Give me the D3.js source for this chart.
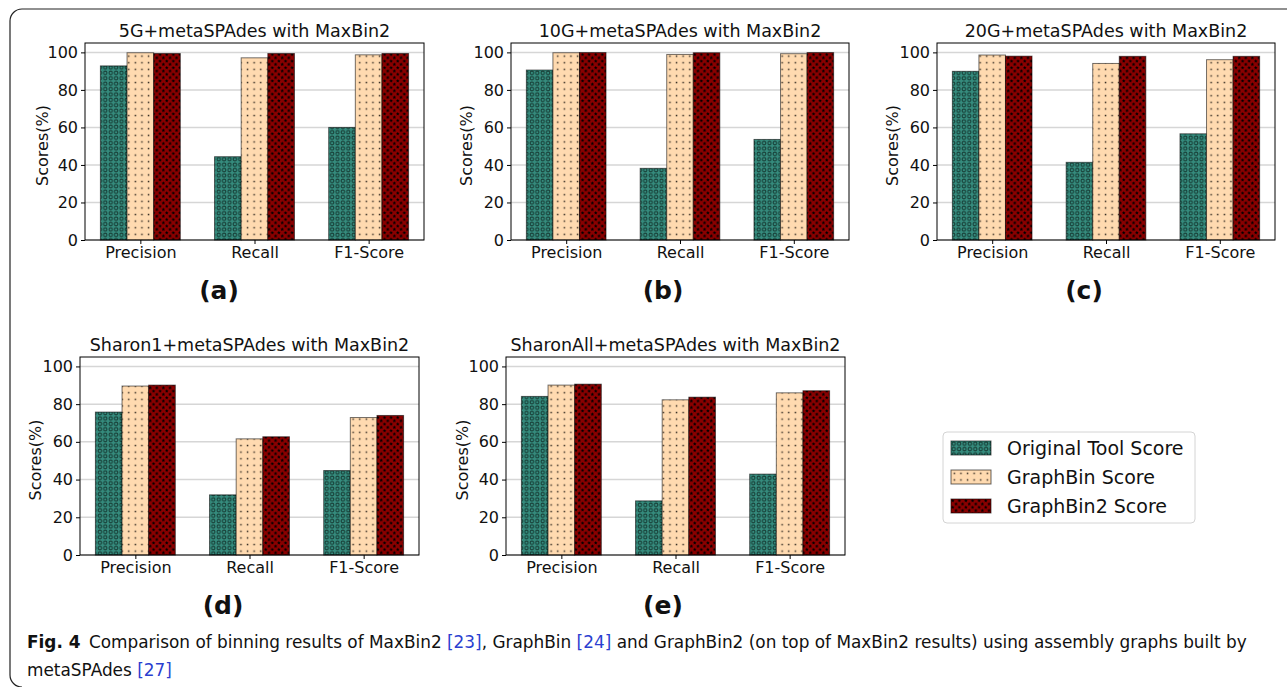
<!DOCTYPE html>
<html>
<head>
<meta charset="utf-8">
<script src="https://cdn.jsdelivr.net/npm/d3@7"></script>
<style>
	body { margin: 0; background: #fff; }
	svg { display: block; }
	text { font-family: "DejaVu Sans", sans-serif; fill: #111; }
</style>
</head>
<body>
<svg id="fig" width="1287" height="687"></svg>
<script>
var categories = ["Precision", "Recall", "F1-Score"];
var seriesNames = ["Original Tool Score", "GraphBin Score", "GraphBin2 Score"];
var panelTitles = [
	"5G+metaSPAdes with MaxBin2",
	"10G+metaSPAdes with MaxBin2",
	"20G+metaSPAdes with MaxBin2",
	"Sharon1+metaSPAdes with MaxBin2",
	"SharonAll+metaSPAdes with MaxBin2"
];
var panelLetters = ["(a)", "(b)", "(c)", "(d)", "(e)"];
// one row per panel, one value per category
var originalScores = [
	[92.8, 44.4, 60.0],
	[90.6, 38.2, 53.6],
	[89.9, 41.4, 56.6],
	[75.8, 31.9, 44.8],
	[84.1, 28.7, 42.9]
];
var graphbinScores = [
	[99.8, 97.1, 98.7],
	[99.8, 98.9, 99.3],
	[98.6, 94.1, 96.1],
	[89.6, 61.6, 72.9],
	[90.1, 82.3, 86.0]
];
var graphbin2Scores = [
	[99.4, 99.4, 99.4],
	[99.9, 99.8, 99.9],
	[98.0, 97.9, 97.9],
	[90.1, 62.7, 74.0],
	[90.6, 83.7, 87.1]
];
var yTicks = [0, 20, 40, 60, 80, 100];

// axes boxes for the five panels
var PANELS = [
	{left: 85,  right: 424,  top: 43,  bottom: 240, labelX: 219, labelY: 299, ylabX: 42},
	{left: 511, right: 849,  top: 43,  bottom: 240, labelX: 663, labelY: 299, ylabX: 466},
	{left: 937, right: 1275, top: 43,  bottom: 240, labelX: 1084, labelY: 299, ylabX: 892},
	{left: 80,  right: 419,  top: 357, bottom: 555, labelX: 223, labelY: 614, ylabX: 35},
	{left: 506, right: 845,  top: 357, bottom: 555, labelX: 663, labelY: 614, ylabX: 462}
];
var BAR_W = 0.7 / 3;
var FILLS = ["url(#hatchO)", "url(#hatchDot)", "url(#hatchStar)"];

var svg = d3.select("#fig");

// ---- hatch patterns ----
var defs = svg.append("defs");

var pO = defs.append("pattern").attr("id", "hatchO")
	.attr("patternUnits", "userSpaceOnUse").attr("width", 5.4).attr("height", 5.4);
pO.append("rect").attr("width", 5.4).attr("height", 5.4).attr("fill", "#358b7d");
pO.append("circle").attr("cx", 2.7).attr("cy", 2.7).attr("r", 1.7)
	.attr("fill", "none").attr("stroke", "#173d36").attr("stroke-width", 1);

var pD = defs.append("pattern").attr("id", "hatchDot")
	.attr("patternUnits", "userSpaceOnUse").attr("width", 6.6).attr("height", 6.6);
pD.append("rect").attr("width", 6.6).attr("height", 6.6).attr("fill", "#ffdab0");
pD.append("rect").attr("x", 2.6).attr("y", 2.6).attr("width", 1.5).attr("height", 1.5).attr("fill", "#3a3026");

var pS = defs.append("pattern").attr("id", "hatchStar")
	.attr("patternUnits", "userSpaceOnUse").attr("width", 6.6).attr("height", 6.6);
pS.append("rect").attr("width", 6.6).attr("height", 6.6).attr("fill", "#8a0000");
function starPoints( cx, cy, ro, ri ) {
	var pts = [];
	for(var k=0;k<10;k++) {
		var a = -Math.PI / 2 + k * Math.PI / 5;
		var r = (k % 2 == 0 ? ro : ri);
		pts.push((cx + r * Math.cos(a)).toFixed(2) + "," + (cy + r * Math.sin(a)).toFixed(2));
	}
	return pts.join(" ");
}
pS.append("polygon").attr("points", starPoints(1.7, 1.7, 1.9, 0.9)).attr("fill", "#000");
pS.append("polygon").attr("points", starPoints(5.0, 5.0, 1.9, 0.9)).attr("fill", "#000");

// ---- outer frame ----
svg.append("path")
	.attr("d", "M1300,9 H22 A12,12 0 0 0 10,21 V675 A12,12 0 0 0 22,687")
	.attr("fill", "none").attr("stroke", "#222").attr("stroke-width", 1.2);

// ---- panels ----
function drawPanel( p, idx ) {
	var x = d3.scaleLinear().domain([-0.485, 2.485]).range([p.left, p.right]);
	var y = d3.scaleLinear().domain([0, 105]).range([p.bottom, p.top]);
	var g = svg.append("g");

	g.selectAll("line.grid")
		.data(yTicks)
		.enter().append("line")
			.attr("x1", p.left).attr("x2", p.right)
			.attr("y1", function(d) {return y(d);})
			.attr("y2", function(d) {return y(d);})
			.attr("stroke", "#d6d6d6").attr("stroke-width", 1.5);

	var rows = [originalScores[idx], graphbinScores[idx], graphbin2Scores[idx]];
	var bars = [];
	rows.forEach(function(vals, s) {
		vals.forEach(function(v, c) {
			bars.push({s: s, c: c, v: v});
		});
	});
	g.selectAll("rect.bar")
		.data(bars)
		.enter().append("rect")
			.attr("x", function(d) {return x(d.c + (d.s - 1) * BAR_W - BAR_W / 2);})
			.attr("width", function() {return x(BAR_W) - x(0);})
			.attr("y", function(d) {return y(d.v);})
			.attr("height", function(d) {return y(0) - y(d.v);})
			.attr("fill", function(d) {return FILLS[d.s];})
			.attr("stroke", "#000").attr("stroke-opacity", 0.55).attr("stroke-width", 1);

	g.append("rect")
		.attr("x", p.left).attr("y", p.top)
		.attr("width", p.right - p.left).attr("height", p.bottom - p.top)
		.attr("fill", "none").attr("stroke", "#000").attr("stroke-width", 1);

	var yAxis = g.append("g")
		.attr("transform", "translate(" + p.left + ",0)")
		.call(d3.axisLeft(y).tickValues(yTicks).tickSize(4).tickPadding(3));
	var xAxis = g.append("g")
		.attr("transform", "translate(0," + p.bottom + ")")
		.call(d3.axisBottom(x).tickValues([0, 1, 2]).tickSize(4).tickPadding(3)
			.tickFormat(function(d) {return categories[d];}));
	[yAxis, xAxis].forEach(function(a) {
		a.select(".domain").remove();
		a.selectAll("text").attr("font-size", 16).attr("font-family", "DejaVu Sans").attr("fill", "#111");
		a.selectAll("line").attr("stroke", "#000");
	});

	g.append("text")
		.attr("x", (p.left + p.right) / 2).attr("y", p.top - 6)
		.attr("text-anchor", "middle").attr("font-size", 17.5)
		.text(panelTitles[idx]);

	g.append("text")
		.attr("transform", "translate(" + (p.ylabX + 6) + "," + ((p.top + p.bottom) / 2 + 4) + ") rotate(-90)")
		.attr("text-anchor", "middle").attr("font-size", 16)
		.text("Scores(%)");

	g.append("text")
		.attr("x", p.labelX).attr("y", p.labelY)
		.attr("text-anchor", "middle").attr("font-size", 25).attr("font-weight", "bold")
		.text(panelLetters[idx]);
}
PANELS.forEach(drawPanel);

// ---- legend ----
var leg = svg.append("g").attr("transform", "translate(943,432)");
leg.append("rect").attr("width", 252).attr("height", 91).attr("rx", 4)
	.attr("fill", "#fff").attr("stroke", "#d4d4d4").attr("stroke-width", 1);
var items = leg.selectAll("g.item")
	.data(seriesNames)
	.enter().append("g")
		.attr("transform", function(d, i) {return "translate(8," + (9 + i * 29) + ")";});
items.append("rect").attr("width", 40).attr("height", 14)
	.attr("fill", function(d, i) {return FILLS[i];})
	.attr("stroke", "#000").attr("stroke-opacity", 0.6);
items.append("text").attr("x", 56).attr("y", 14).attr("font-size", 19)
	.text(function(d) {return d;});

// ---- caption ----
var capFont = "'DejaVu Sans Condensed', sans-serif";
var cap1 = svg.append("text").attr("x", 27).attr("y", 648)
	.attr("font-family", capFont).attr("font-size", 16.9).attr("fill", "#2a2a2a");
cap1.append("tspan").attr("font-weight", "bold").text("Fig. 4");
cap1.append("tspan").text("\u2002Comparison of binning results of MaxBin2 ");
cap1.append("tspan").attr("fill", "#2b3fd0").text("[23]");
cap1.append("tspan").text(", GraphBin ");
cap1.append("tspan").attr("fill", "#2b3fd0").text("[24]");
cap1.append("tspan").text(" and GraphBin2 (on top of MaxBin2 results) using assembly graphs built by");
var cap2 = svg.append("text").attr("x", 27).attr("y", 676)
	.attr("font-family", capFont).attr("font-size", 16.9).attr("fill", "#2a2a2a");
cap2.append("tspan").text("metaSPAdes ");
cap2.append("tspan").attr("fill", "#2b3fd0").text("[27]");
</script>
</body>
</html>
